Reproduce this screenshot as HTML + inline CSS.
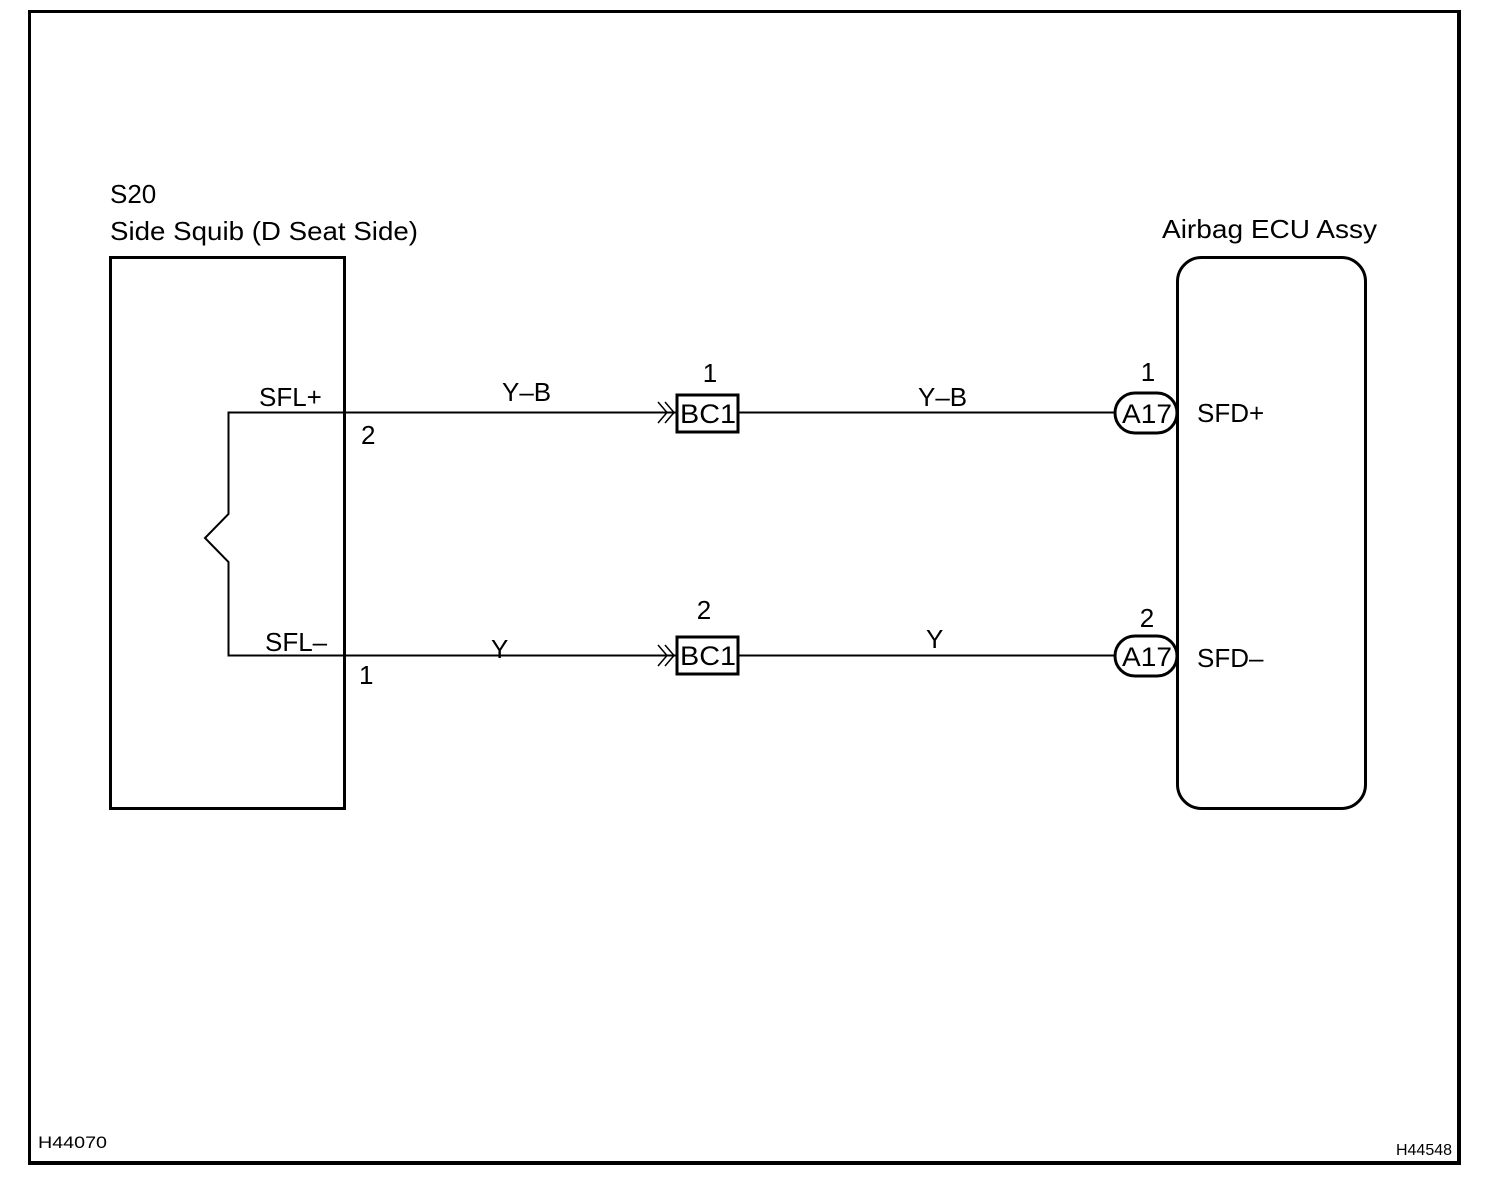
<!DOCTYPE html>
<html><head><meta charset="utf-8"><style>
html,body{margin:0;padding:0;background:#fff;}
svg{display:block;}
text{font-family:"Liberation Sans",Arial,sans-serif;fill:#000;}
</style></head><body>
<svg width="1504" height="1178" viewBox="0 0 1504 1178" xmlns="http://www.w3.org/2000/svg">
<rect width="1504" height="1178" fill="#fff"/>
<!-- frame -->
<rect x="29.5" y="11.5" width="1429" height="1151" fill="none" stroke="#000" stroke-width="3"/>
<line x1="1459" y1="10" x2="1459" y2="1165" stroke="#000" stroke-width="4"/>
<line x1="28" y1="1163" x2="1461" y2="1163" stroke="#000" stroke-width="4"/>

<!-- left box -->
<rect x="110.5" y="257.5" width="234" height="551" fill="none" stroke="#000" stroke-width="3"/>
<text x="110" y="203" font-size="26">S20</text>
<text x="110" y="240" font-size="26" textLength="308" lengthAdjust="spacingAndGlyphs">Side Squib (D Seat Side)</text>

<!-- squib element -->
<path d="M345 412.5 H228.5 V514 L205 538 L228.5 562 V655.5 H345" fill="none" stroke="#000" stroke-width="2"/>

<!-- right box -->
<rect x="1177.5" y="257.5" width="188" height="551" rx="24" ry="24" fill="none" stroke="#000" stroke-width="3"/>
<text x="1162" y="238" font-size="26" textLength="215" lengthAdjust="spacingAndGlyphs">Airbag ECU Assy</text>

<!-- wires -->
<line x1="345" y1="412.5" x2="676" y2="412.5" stroke="#000" stroke-width="2"/>
<line x1="345" y1="655.5" x2="676" y2="655.5" stroke="#000" stroke-width="2"/>
<line x1="739" y1="412.5" x2="1115" y2="412.5" stroke="#000" stroke-width="2"/>
<line x1="739" y1="655.5" x2="1115" y2="655.5" stroke="#000" stroke-width="2"/>

<!-- arrow marks -->
<path d="M658 402 L667 412.5 L658 423 M665 402 L674 412.5 L665 423" fill="none" stroke="#000" stroke-width="1.5"/>
<path d="M658 645 L667 655.5 L658 666 M665 645 L674 655.5 L665 666" fill="none" stroke="#000" stroke-width="1.5"/>

<!-- BC1 boxes -->
<rect x="677" y="395" width="61" height="37" fill="#fff" stroke="#000" stroke-width="3"/>
<rect x="677" y="637" width="61" height="37" fill="#fff" stroke="#000" stroke-width="3"/>
<text x="708" y="423" font-size="27" text-anchor="middle" textLength="56" lengthAdjust="spacingAndGlyphs">BC1</text>
<text x="708" y="665" font-size="27" text-anchor="middle" textLength="56" lengthAdjust="spacingAndGlyphs">BC1</text>
<text x="710" y="382" font-size="26" text-anchor="middle">1</text>
<text x="704" y="619" font-size="26" text-anchor="middle">2</text>

<!-- A17 connectors -->
<rect x="1115" y="393" width="62" height="40" rx="20" ry="20" fill="#fff" stroke="#000" stroke-width="3"/>
<rect x="1115" y="636" width="62" height="40" rx="20" ry="20" fill="#fff" stroke="#000" stroke-width="3"/>
<text x="1147" y="423" font-size="27" text-anchor="middle" textLength="50" lengthAdjust="spacingAndGlyphs">A17</text>
<text x="1147" y="666" font-size="27" text-anchor="middle" textLength="50" lengthAdjust="spacingAndGlyphs">A17</text>
<text x="1148" y="381" font-size="26" text-anchor="middle">1</text>
<text x="1147" y="627" font-size="26" text-anchor="middle">2</text>

<!-- labels -->
<text x="259" y="406" font-size="26">SFL+</text>
<text x="265" y="651" font-size="26">SFL–</text>
<text x="361" y="444" font-size="26">2</text>
<text x="359" y="684" font-size="26">1</text>
<text x="502" y="401" font-size="26">Y–B</text>
<text x="918" y="406" font-size="26">Y–B</text>
<text x="491" y="658" font-size="26">Y</text>
<text x="926" y="648" font-size="26">Y</text>
<text x="1197" y="422" font-size="26">SFD+</text>
<text x="1197" y="667" font-size="26">SFD–</text>

<!-- codes -->
<text x="38" y="1148" font-size="17" textLength="69" lengthAdjust="spacingAndGlyphs">H44070</text>
<text x="1396" y="1155" font-size="16" textLength="56" lengthAdjust="spacingAndGlyphs">H44548</text>
</svg>
</body></html>
